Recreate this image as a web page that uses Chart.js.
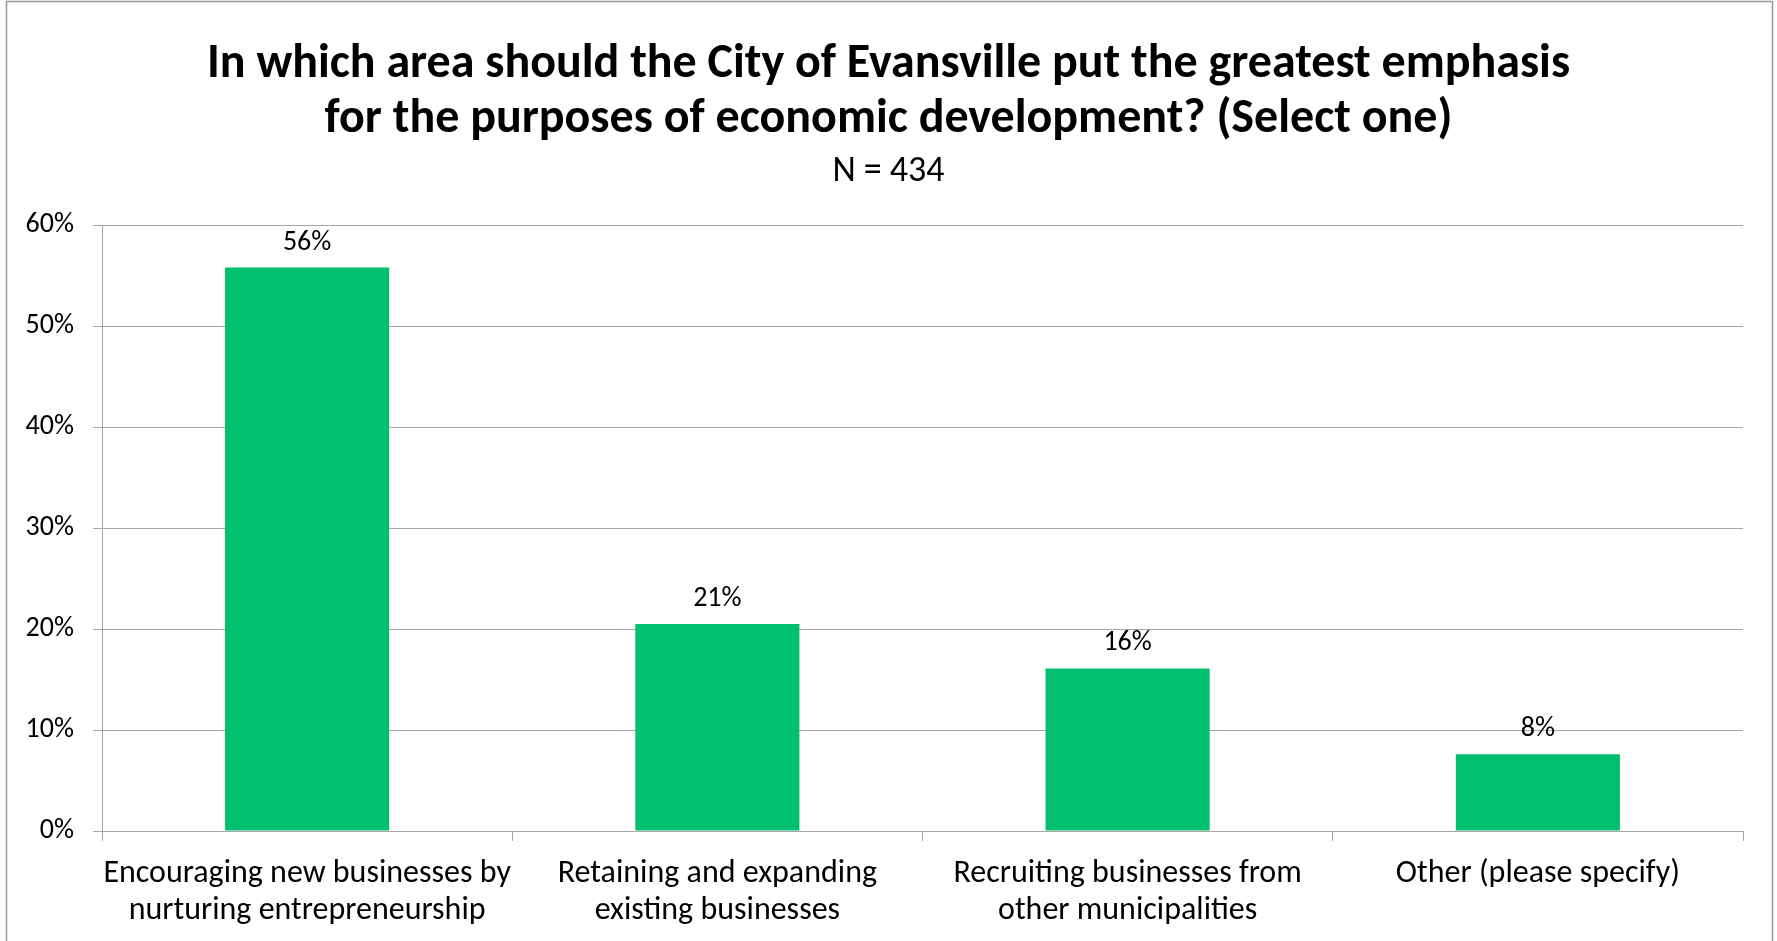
<!DOCTYPE html>
<html>
<head>
<meta charset="utf-8">
<script src="https://cdn.jsdelivr.net/npm/chart.js@4.4.1/dist/chart.umd.min.js"></script>
<style>
  html, body { margin: 0; padding: 0; background: #ffffff; }
  #wrap { position: relative; width: 1777px; height: 941px; }
</style>
</head>
<body>
<div id="wrap"><canvas id="c" width="1777" height="941"></canvas></div>
<script>
const titleLines = ["In which area should the City of Evansville put the greatest emphasis",
                    "for the purposes of economic development? (Select one)"];
const subtitleText = "N = 434";
const categories = [
  ["Encouraging new businesses by", "nurturing entrepreneurship"],
  ["Retaining and expanding", "existing businesses"],
  ["Recruiting businesses from", "other municipalities"],
  ["Other (please specify)"]
];
const values = [55.8, 20.5, 16.1, 7.6];
const valueLabels = ["56%", "21%", "16%", "8%"];
const yTicks = [0, 10, 20, 30, 40, 50, 60];

const FONT = "Carlito, 'Liberation Sans', Arial, sans-serif";
const GRID = '#a6a6a6';

const dataLabelPlugin = {
  id: 'dataLabels',
  afterDatasetsDraw(chart) {
    const ctx = chart.ctx;
    const meta = chart.getDatasetMeta(0);
    ctx.save();
    ctx.font = "28px " + FONT;
    ctx.fillStyle = '#000';
    ctx.textAlign = 'center';
    ctx.textBaseline = 'middle';
    meta.data.forEach((el, i) => {
      ctx.fillText(valueLabels[i], el.x, el.y - 25);
    });
    ctx.restore();
  }
};

const borderPlugin = {
  id: 'outerBorder',
  afterDraw(chart) {
    const ctx = chart.ctx;
    ctx.save();
    ctx.strokeStyle = '#9a9a9a';
    ctx.lineWidth = 1.5;
    ctx.strokeRect(6.5, 1.5, 1766, 960);
    ctx.restore();
  }
};

new Chart(document.getElementById('c'), {
  type: 'bar',
  data: {
    labels: categories,
    datasets: [{
      data: values,
      backgroundColor: '#00bf6f',
      borderWidth: 0,
      categoryPercentage: 1.0,
      barPercentage: 0.4
    }]
  },
  options: {
    responsive: false,
    animation: false,
    devicePixelRatio: 1,
    layout: { padding: 0 },
    plugins: {
      legend: { display: false },
      tooltip: { enabled: false },
      title: {
        display: true,
        text: titleLines,
        color: '#000',
        font: { family: FONT, size: 48, weight: 'bold', lineHeight: 55/48 },
        padding: { top: 37, bottom: 3 }
      },
      subtitle: {
        display: true,
        text: subtitleText,
        color: '#000',
        font: { family: FONT, size: 36, lineHeight: 1.2 },
        padding: { top: 0, bottom: 32 }
      }
    },
    scales: {
      x: {
        offset: true,
        grid: {
          display: true,
          offset: true,
          drawOnChartArea: false,
          drawTicks: true,
          tickLength: 10,
          color: GRID,
          lineWidth: 1
        },
        border: { display: true, color: GRID, width: 1 },
        ticks: {
          color: '#000',
          font: { family: FONT, size: 32, lineHeight: 37/32 },
          padding: 14,
          maxRotation: 0,
          autoSkip: false
        },
        afterFit(scale) { scale.height = 941 - 831; }
      },
      y: {
        min: 0,
        max: 60,
        afterBuildTicks(scale) { scale.ticks = yTicks.map(v => ({ value: v })); },
        grid: {
          color: GRID,
          lineWidth: 1,
          tickLength: 9
        },
        border: { display: true, color: GRID, width: 1 },
        ticks: {
          color: '#000',
          font: { family: FONT, size: 28 },
          padding: 19,
          callback: (v) => v + '%'
        },
        afterFit(scale) { scale.width = 102; }
      },
      ySpacer: {
        type: 'linear',
        position: 'right',
        display: true,
        min: 0,
        max: 60,
        grid: { display: false, drawTicks: false },
        border: { display: false },
        ticks: { display: false },
        afterFit(scale) { scale.width = 1777 - 1743; }
      }
    }
  },
  plugins: [dataLabelPlugin, borderPlugin]
});
</script>
</body>
</html>
